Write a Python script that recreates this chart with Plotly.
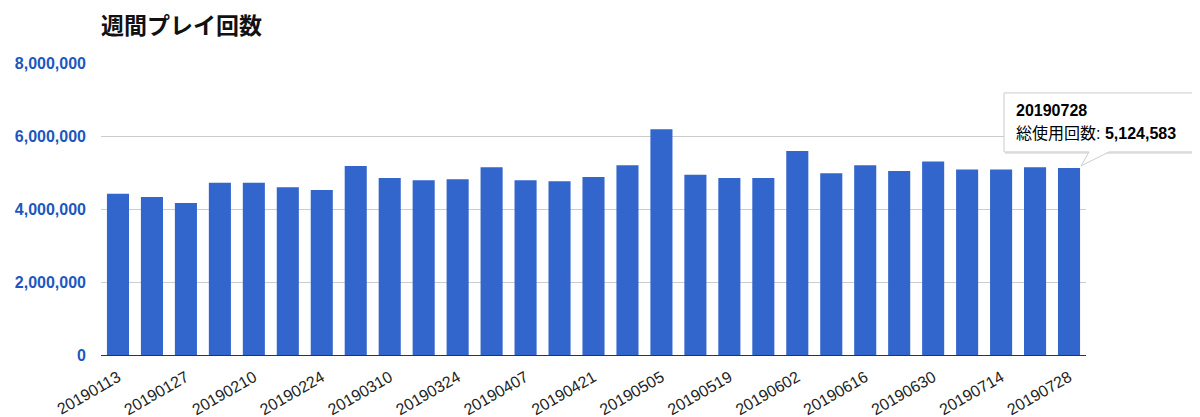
import plotly.graph_objects as go

weeks = ["20190113", "20190120", "20190127", "20190203", "20190210", "20190217",
         "20190224", "20190303", "20190310", "20190317", "20190324", "20190331",
         "20190407", "20190414", "20190421", "20190428", "20190505", "20190512",
         "20190519", "20190526", "20190602", "20190609", "20190616", "20190623",
         "20190630", "20190707", "20190714", "20190721", "20190728"]
plays = [4420000, 4330000, 4165000, 4720000, 4720000, 4595000, 4520000, 5180000,
         4850000, 4785000, 4815000, 5145000, 4785000, 4760000, 4880000, 5200000,
         6185000, 4940000, 4850000, 4850000, 5590000, 4980000, 5200000, 5040000,
         5300000, 5080000, 5080000, 5145000, 5124583]
tick_weeks = weeks[::2]
y_ticks = [0, 2000000, 4000000, 6000000, 8000000]
y_tick_text = ["0", "2,000,000", "4,000,000", "6,000,000", "8,000,000"]
title_text = "週間プレイ回数"
series_name = "総使用回数"
tip_index = len(weeks) - 1

# page body has an 8px margin; figure is sized to fill the rest of the window
W, H = 1192, 409

fig = go.Figure()
fig.add_trace(go.Bar(
    x=weeks, y=plays, name=series_name,
    marker=dict(color="#3366cc", line=dict(width=0)),
))

ymax = 8000000
tip_val = plays[tip_index]
ax_frac = (tip_index + 0.5) / len(weeks)
ay_frac = tip_val / ymax

# tooltip box with pointer (pixel offsets relative to bar top)
box_path = "M -65,16 L 20,16 L 12,2 L 40,16 L 124,16 L 124,75 L -65,75 Z"
shadow_path = "M -64,14 L 126,14 L 126,73 L -64,73 Z"
fig.add_shape(type="path", xref="paper", yref="paper",
              xsizemode="pixel", ysizemode="pixel",
              xanchor=ax_frac, yanchor=ay_frac, path=shadow_path,
              fillcolor="rgba(0,0,0,0.10)", line=dict(width=0), layer="above")
fig.add_shape(type="path", xref="paper", yref="paper",
              xsizemode="pixel", ysizemode="pixel",
              xanchor=ax_frac, yanchor=ay_frac, path=box_path,
              fillcolor="white", line=dict(color="#cccccc", width=1), layer="above")

tip_font = dict(family="Liberation Sans, Arial, Noto Sans CJK JP", size=16, color="#000000")
fig.add_annotation(x=tip_index, y=tip_val, xref="x", yref="y",
                   text="<b>%s</b>" % weeks[tip_index], showarrow=False,
                   xanchor="left", yanchor="middle", xshift=-55, yshift=57,
                   font=tip_font)
fig.add_annotation(x=tip_index, y=tip_val, xref="x", yref="y",
                   text="%s: <b>%s</b>" % (series_name, format(tip_val, ",")),
                   showarrow=False,
                   xanchor="left", yanchor="middle", xshift=-55, yshift=34,
                   font=tip_font)

fig.update_layout(
    width=W, height=H,
    margin=dict(l=93, r=114, t=55, b=62, autoexpand=False),
    paper_bgcolor="white", plot_bgcolor="white",
    bargap=0.35, showlegend=False,
    title=dict(text="<b>%s</b>" % title_text, xref="container", yref="container",
               x=93 / W, xanchor="left", y=1 - 17.5 / H, yanchor="middle",
               font=dict(family="Noto Sans CJK JP", size=23, color="#111111")),
    xaxis=dict(type="category", tickvals=tick_weeks, ticktext=tick_weeks,
               tickangle=-30, showgrid=False, ticks="", automargin=False,
               ticklabelstandoff=6,
               showline=True, linecolor="#333333", linewidth=1,
               tickfont=dict(family="Liberation Sans, Arial", size=16, color="#222222"),
               range=[-0.5, len(weeks) - 0.5]),
    yaxis=dict(range=[0, ymax], tickvals=y_ticks, ticktext=y_tick_text,
               showgrid=True, gridcolor="#cccccc", gridwidth=1, automargin=False,
               zeroline=False, showline=False, ticks="",
               ticklabelstandoff=14,
               tickfont=dict(family="Liberation Sans, Arial", size=16, color="#1c57c0",
                             weight="bold")),
)

fig.write_html("out.html")
